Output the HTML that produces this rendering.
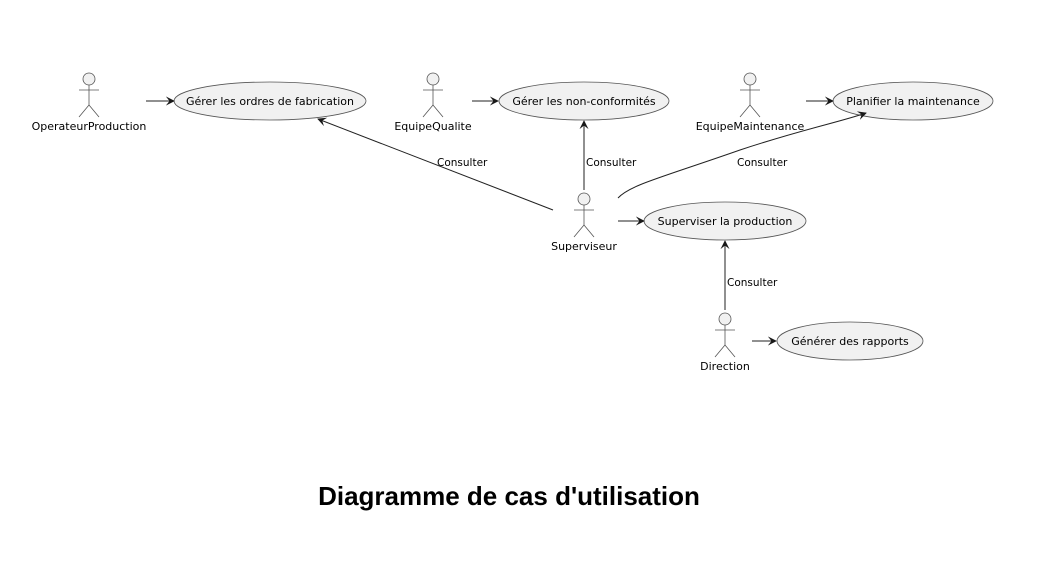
<!DOCTYPE html>
<html><head><meta charset="utf-8"><style>
html,body{margin:0;padding:0;background:#fff;}
svg{display:block;}
text{font-family:"DejaVu Sans","Liberation Sans",sans-serif;fill:#000;}
</style></head><body>
<svg width="1059" height="562" viewBox="0 0 1059 562" xmlns="http://www.w3.org/2000/svg">
<defs>
<marker id="a" viewBox="0 0 10 10" refX="9" refY="5" markerWidth="9" markerHeight="9" orient="auto" markerUnits="userSpaceOnUse"><path d="M0,0 L10,5 L0,10 L4,5 Z" fill="#181818"/></marker>
<g id="actor" stroke="#555" stroke-width="0.8" fill="none">
<circle cx="0" cy="0" r="6" fill="#f1f1f1"/>
<line x1="0" y1="6" x2="0" y2="26"/>
<line x1="-10" y1="11" x2="10" y2="11"/>
<line x1="0" y1="26" x2="-10" y2="38"/>
<line x1="0" y1="26" x2="10" y2="38"/>
</g>
</defs>
<g fill="#f1f1f1" stroke="#555" stroke-width="0.8">
<ellipse cx="270" cy="101" rx="96" ry="19"/>
<ellipse cx="584" cy="101" rx="85" ry="19"/>
<ellipse cx="913" cy="101" rx="80" ry="19"/>
<ellipse cx="725" cy="221" rx="81" ry="19"/>
<ellipse cx="850" cy="341" rx="73" ry="19"/>
</g>
<use href="#actor" x="89" y="79"/>
<use href="#actor" x="433" y="79"/>
<use href="#actor" x="750" y="79"/>
<use href="#actor" x="584" y="199"/>
<use href="#actor" x="725" y="319"/>
<g stroke="#222" stroke-width="1" fill="none" marker-end="url(#a)">
<line x1="146" y1="101" x2="174" y2="101"/>
<line x1="472" y1="101" x2="498" y2="101"/>
<line x1="806" y1="101" x2="833" y2="101"/>
<line x1="618" y1="221" x2="644" y2="221"/>
<line x1="752" y1="341" x2="776" y2="341"/>
<line x1="553" y1="210" x2="318" y2="119"/>
<line x1="584" y1="190" x2="584" y2="121"/>
<path d="M618,198 C630,185 660,178 740,150 C800,130 840,122 866,113"/>
<line x1="725" y1="310" x2="725" y2="241"/>
</g>
<g font-size="11" text-anchor="middle">
<text x="270" y="105">Gérer les ordres de fabrication</text>
<text x="584" y="105">Gérer les non-conformités</text>
<text x="913" y="105">Planifier la maintenance</text>
<text x="725" y="225">Superviser la production</text>
<text x="850" y="345">Générer des rapports</text>
<text x="89" y="130">OperateurProduction</text>
<text x="433" y="130">EquipeQualite</text>
<text x="750" y="130">EquipeMaintenance</text>
<text x="584" y="250">Superviseur</text>
<text x="725" y="370">Direction</text>
</g>
<g font-size="10.5">
<text x="437" y="166">Consulter</text>
<text x="586" y="166">Consulter</text>
<text x="737" y="166">Consulter</text>
<text x="727" y="286">Consulter</text>
</g>
<text x="509" y="505" text-anchor="middle" style="font-family:'Liberation Sans',sans-serif;font-weight:bold;font-size:26px">Diagramme de cas d'utilisation</text>
</svg>
</body></html>
